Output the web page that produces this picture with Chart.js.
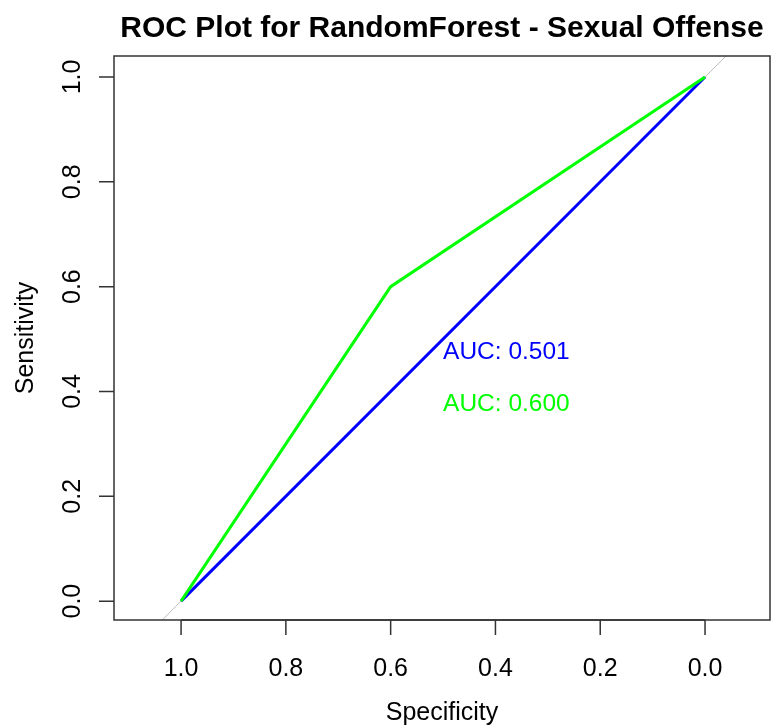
<!DOCTYPE html>
<html>
<head>
<meta charset="utf-8">
<title>ROC Plot</title>
<script src="https://cdn.jsdelivr.net/npm/chart.js@4/dist/chart.umd.min.js"></script>
<style>
    html, body { margin: 0; padding: 0; background: #fff; }
    #wrap { width: 771px; height: 727px; }
</style>
</head>
<body>
<div id="wrap"><canvas id="rocChart"></canvas></div>
<script>
// Curvas ROC (especificidade, sensibilidade)
const rfSpecificity = [1.0, 0.0];
const rfSensitivity = [0.0, 1.0];
const altSpecificity = [1.0, 0.6, 0.0];
const altSensitivity = [0.0, 0.6, 1.0];
const aucLabels = ['AUC: 0.501', 'AUC: 0.600'];
const aucLabelY = [0.475, 0.376];
const tickValues = [1.0, 0.8, 0.6, 0.4, 0.2, 0.0];

const FONT = '"Liberation Sans", Arial, sans-serif';

function toPoints(xs, ys) {
    return xs.map((x, i) => ({ x: x, y: ys[i] }));
}

// Eixos, caixa e textos no estilo do R
const rAxesPlugin = {
    id: 'rAxes',
    afterDraw(chart) {
        const ctx = chart.ctx;
        const xs = chart.scales.x;
        const ys = chart.scales.y;
        const area = chart.chartArea;

        ctx.save();
        ctx.strokeStyle = '#333';
        ctx.lineWidth = 1.5;
        ctx.strokeRect(area.left, area.top, area.right - area.left, area.bottom - area.top);

        // eixo x
        const xa = xs.getPixelForValue(tickValues[0]);
        const xb = xs.getPixelForValue(tickValues[tickValues.length - 1]);
        ctx.beginPath();
        ctx.moveTo(xa, area.bottom);
        ctx.lineTo(xb, area.bottom);
        tickValues.forEach(v => {
            const px = xs.getPixelForValue(v);
            ctx.moveTo(px, area.bottom);
            ctx.lineTo(px, area.bottom + 15);
        });
        // eixo y
        tickValues.forEach(v => {
            const py = ys.getPixelForValue(v);
            ctx.moveTo(area.left, py);
            ctx.lineTo(area.left - 15, py);
        });
        ctx.stroke();

        ctx.fillStyle = '#000';
        ctx.font = '25px ' + FONT;
        ctx.textAlign = 'center';
        ctx.textBaseline = 'alphabetic';
        tickValues.forEach(v => {
            ctx.fillText(v.toFixed(1), xs.getPixelForValue(v), 676);
        });
        tickValues.forEach(v => {
            ctx.save();
            ctx.translate(80, ys.getPixelForValue(v));
            ctx.rotate(-Math.PI / 2);
            ctx.fillText(v.toFixed(1), 0, 0);
            ctx.restore();
        });

        const cx = (area.left + area.right) / 2;
        const cy = (area.top + area.bottom) / 2;
        ctx.fillText('Specificity', cx, 720);
        ctx.save();
        ctx.translate(33, cy);
        ctx.rotate(-Math.PI / 2);
        ctx.fillText('Sensitivity', 0, 0);
        ctx.restore();

        ctx.font = 'bold 30px ' + FONT;
        ctx.fillText('ROC Plot for RandomForest - Sexual Offense', cx, 37);

        // rótulos de AUC
        ctx.font = '24.5px ' + FONT;
        ctx.textAlign = 'left';
        ctx.textBaseline = 'middle';
        const colors = ['#0000FF', '#00FF00'];
        aucLabels.forEach((t, i) => {
            ctx.fillStyle = colors[i];
            ctx.fillText(t, xs.getPixelForValue(0.5), ys.getPixelForValue(aucLabelY[i]));
        });
        ctx.restore();
    }
};

new Chart(document.getElementById('rocChart'), {
    type: 'line',
    data: {
        datasets: [
            {
                label: 'diagonal',
                data: toPoints([1.2, -0.2], [-0.2, 1.2]),
                borderColor: '#BEBEBE',
                borderWidth: 1,
                pointRadius: 0,
                order: 3
            },
            {
                label: 'RandomForest',
                data: toPoints(rfSpecificity, rfSensitivity),
                borderColor: '#0000FF',
                borderWidth: 3,
                pointRadius: 0,
                order: 2
            },
            {
                label: 'Outro',
                data: toPoints(altSpecificity, altSensitivity),
                borderColor: '#00FF00',
                borderWidth: 3,
                pointRadius: 0,
                order: 1
            }
        ]
    },
    options: {
        responsive: true,
        maintainAspectRatio: false,
        animation: false,
        layout: {
            padding: { left: 114, top: 56, right: 1, bottom: 107 }
        },
        plugins: {
            legend: { display: false },
            title: { display: false },
            tooltip: { enabled: false }
        },
        scales: {
            x: {
                type: 'linear',
                display: false,
                reverse: true,
                min: -0.124,
                max: 1.128
            },
            y: {
                type: 'linear',
                display: false,
                min: -0.036,
                max: 1.040
            }
        }
    },
    plugins: [rAxesPlugin]
});
</script>
</body>
</html>
